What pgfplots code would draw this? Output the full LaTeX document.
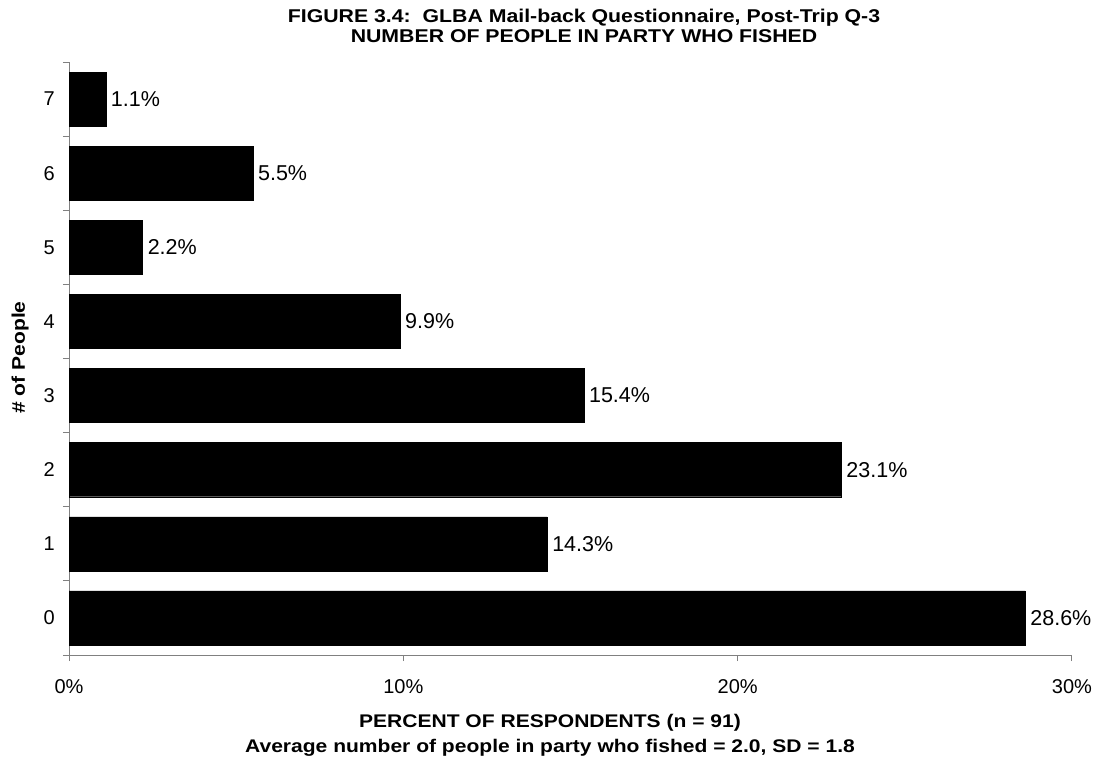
\documentclass[border=0pt]{standalone}
\usepackage{pgfplots}
\pgfplotsset{compat=1.18}
\usepackage{fontspec}
\setmainfont{Liberation Sans}
\newfontface\boldwide[FakeStretch=1.15]{Liberation Sans Bold}
\pgfkeys{/pgf/number format/assume math mode=true}
\definecolor{axgray}{RGB}{128,128,128}
\begin{document}
\begin{tikzpicture}
\useasboundingbox (-69pt,-108pt) rectangle (1030pt,655pt);
\begin{axis}[
  at={(0pt,0pt)}, anchor=south west,
  scale only axis, width=1003pt, height=593pt,
  xbar, bar width=0.73,
  xmin=0, xmax=30, ymin=-0.5, ymax=7.5,
  axis lines*=left,
  axis line style={axgray, line width=1pt},
  tick style={axgray, line width=1pt},
  tick align=outside,
  xtick={0,10,20,30},
  xticklabels={0\%,10\%,20\%,30\%},
  major tick length=6pt,
  ytick={0,...,7},
  minor ytick={-0.5,0.5,...,7.5},
  major y tick style={draw=none},
  minor tick length=6pt,
  /pgf/number format/assume math mode=true,
  tick label style={font=\fontsize{20}{24}\selectfont},
  xticklabel style={inner sep=0pt, anchor=base, yshift=-32pt},
  yticklabel style={inner sep=0pt, anchor=east, xshift=-8pt},
  nodes near coords={\pgfmathprintnumber[fixed,precision=1,fixed zerofill,assume math mode=true]{\pgfplotspointmeta}\%},
  point meta=x,
  every node near coord/.append style={anchor=west, inner sep=0pt, xshift=5pt, font=\fontsize{21.5}{24}\selectfont, black},
  clip=false,
]
\addplot[fill=black, draw=black] coordinates {
(28.6,0) (14.3,1) (23.1,2) (15.4,3) (9.9,4) (2.2,5) (5.5,6) (1.1,7)
};
\end{axis}
\node[anchor=base, font=\boldwide\fontsize{18.5}{22}\selectfont] at (515pt,632pt) {FIGURE 3.4:\ \ GLBA Mail-back Questionnaire, Post-Trip Q-3};
\node[anchor=base, font=\boldwide\fontsize{18.5}{22}\selectfont] at (515pt,612.5pt) {NUMBER OF PEOPLE IN PARTY WHO FISHED};
\node[anchor=base, font=\boldwide\fontsize{18.3}{22}\selectfont] at (481pt,-72pt) {PERCENT OF RESPONDENTS (n = 91)};
\node[anchor=base, font=\boldwide\fontsize{18.3}{22}\selectfont] at (481pt,-97pt) {Average number of people in party who fished = 2.0, SD = 1.8};
\node[anchor=base, rotate=90, font=\boldwide\fontsize{18.3}{22}\selectfont] at (-44pt,297.5pt) {\# of People};
\end{tikzpicture}
\end{document}
